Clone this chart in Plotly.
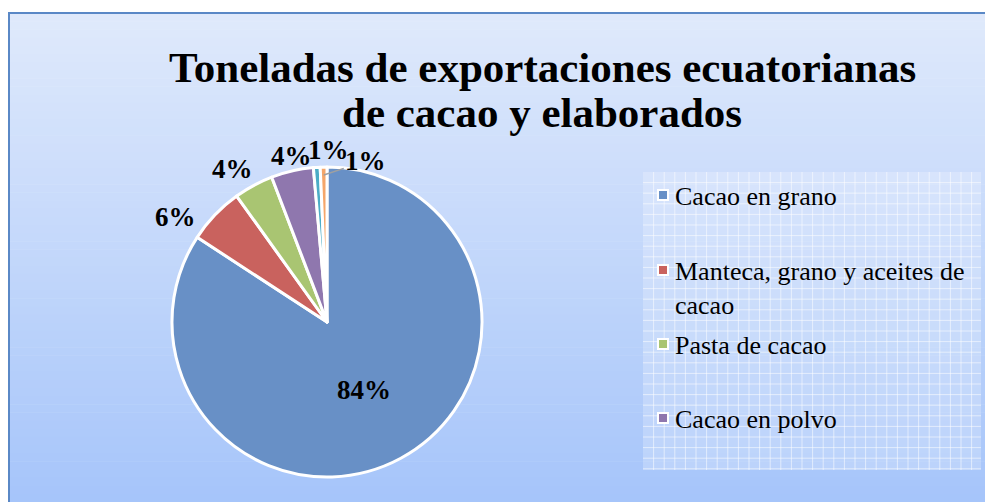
import plotly.graph_objects as go
import numpy as np

categories = ["Cacao en grano", "Manteca, grano y aceites de cacao", "Pasta de cacao",
              "Cacao en polvo", "Chocolate", "Otros elaborados"]
values = [84.2, 5.9, 4.1, 4.4, 0.7, 0.7]
colors = ["#6890c6", "#c9625e", "#a9c572", "#8f77ae", "#4bacc6", "#f5a66a"]
legend_labels = ["Cacao en grano", "Manteca, grano y aceites de<br>cacao", "Pasta de cacao", "Cacao en polvo"]
title_lines = ["Toneladas de exportaciones ecuatorianas", "de cacao y elaborados"]

W, H = 985, 502
SERIF = "Liberation Serif"

def px(x):
    return x / W

def py(y):
    return 1 - y / H

cx, cy, r = 327, 322, 155
# label nudges (pixels) applied to outside labels, Excel-like placement
nudges = [(0, 0), (-18, 23), (-7, 10), (6, 14), (13, 5), (0, 0)]

fig = go.Figure()
fig.add_trace(go.Pie(
    labels=categories, values=values, sort=False, direction="clockwise", rotation=0,
    marker=dict(colors=colors, line=dict(color="white", width=3)),
    texttemplate=["%{percent:.0%}", "", "", "", "", ""],
    textposition="inside",
    insidetextorientation="horizontal",
    textfont=dict(family=SERIF, size=27, color="black", weight="bold"),
    showlegend=False, hoverinfo="label+percent",
    domain=dict(x=[px(cx - r), px(cx + r)], y=[py(cy + r), py(cy - r)]),
))

shapes = []
annotations = []

tot = sum(values)
cum = 0.0
lab_r = r + 30
for i, v in enumerate(values):
    mid = (cum + v / 2) / tot * 2 * np.pi
    cum += v
    if i == 0:
        continue
    pct = "%d%%" % round(v / tot * 100)
    f = dict(family=SERIF, size=27, color="black", weight="bold")
    if i == len(values) - 1:
        ex, ey = cx + (r - 8) * np.sin(mid), cy - (r - 8) * np.cos(mid)
        annotations.append(dict(text=pct, xref="paper", yref="paper", x=px(ex), y=py(ey),
                                ax=42, ay=-14, showarrow=True, arrowhead=0, arrowwidth=1.5,
                                arrowcolor="#a0a0a0", font=f))
    else:
        rr = lab_r - (8 if i == 4 else 0)
        lx, ly = cx + rr * np.sin(mid), cy - rr * np.cos(mid)
        dx, dy = nudges[i]
        annotations.append(dict(text=pct, xref="paper", yref="paper", x=px(lx), y=py(ly),
                                xshift=dx, yshift=-dy,
                                xanchor="center", yanchor="middle", showarrow=False, font=f))

# background gradient
top = np.array([224, 234, 252])
bot = np.array([166, 197, 250])
n = 60
x0, y0 = 9, 13
for i in range(n):
    ya = y0 + (H - y0) * i / n
    yb = y0 + (H - y0) * (i + 1) / n + 0.5
    t = (i + 0.5) / n
    c = top + (bot - top) * t
    shapes.append(dict(type="rect", xref="paper", yref="paper", x0=px(x0), x1=1.01,
                       y0=py(yb), y1=py(ya), line=dict(width=0),
                       fillcolor="rgb(%d,%d,%d)" % tuple(c.astype(int)), layer="below"))
# frame
shapes.append(dict(type="rect", xref="paper", yref="paper", x0=px(x0), x1=1.05, y0=-0.05, y1=py(y0),
                   line=dict(color="#5a88c6", width=2), fillcolor="rgba(0,0,0,0)", layer="below"))
# legend box with grid
lx0, lx1, ly0, ly1 = 643, 981, 172, 470
shapes.append(dict(type="rect", xref="paper", yref="paper", x0=px(lx0), x1=px(lx1), y0=py(ly1), y1=py(ly0),
                   line=dict(width=0), fillcolor="rgba(255,255,255,0.22)", layer="below"))
step = 10.6
gx = lx0 + step
while gx < lx1:
    shapes.append(dict(type="line", xref="paper", yref="paper", x0=px(gx), x1=px(gx), y0=py(ly1), y1=py(ly0),
                       line=dict(color="rgba(255,255,255,0.55)", width=1), layer="below"))
    gx += step
gy = ly0 + step
while gy < ly1:
    shapes.append(dict(type="line", xref="paper", yref="paper", x0=px(lx0), x1=px(lx1), y0=py(gy), y1=py(gy),
                       line=dict(color="rgba(255,255,255,0.55)", width=1), layer="below"))
    gy += step

# legend
leg_y = [195, 270, 344, 418]
for lab, col, yy in zip(legend_labels, colors, leg_y):
    shapes.append(dict(type="rect", xref="paper", yref="paper", x0=px(657), x1=px(669), y0=py(yy + 6), y1=py(yy - 6),
                       line=dict(width=0), fillcolor="white"))
    shapes.append(dict(type="rect", xref="paper", yref="paper", x0=px(659), x1=px(667), y0=py(yy + 4), y1=py(yy - 4),
                       line=dict(width=0), fillcolor=col))
    annotations.append(dict(text=lab, xref="paper", yref="paper", x=px(673), y=py(yy - 15),
                            xanchor="left", yanchor="top", align="left", showarrow=False,
                            font=dict(family=SERIF, size=26, color="black")))

# title (two lines, tighter spacing)
for line, yy in zip(title_lines, [67, 112]):
    annotations.append(dict(text=line, xref="paper", yref="paper", x=px(542), y=py(yy),
                            xanchor="center", yanchor="middle", showarrow=False,
                            font=dict(family=SERIF, size=43, color="black", weight="bold")))

fig.update_layout(
    width=W, height=H, margin=dict(l=0, r=0, t=0, b=0),
    paper_bgcolor="white", plot_bgcolor="white",
    shapes=shapes, annotations=annotations, showlegend=False,
)
fig.write_html("out.html", config={"displayModeBar": False},
               post_script="document.body.style.margin='0px';")
